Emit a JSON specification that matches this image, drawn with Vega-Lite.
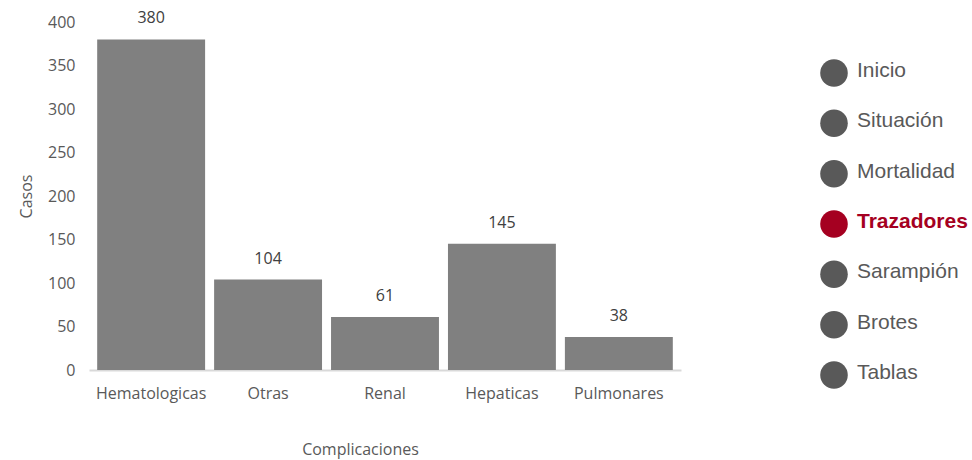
{
  "$schema": "https://vega.github.io/schema/vega-lite/v6.json",
  "background": "white",
  "padding": {"left": 18, "top": 10, "right": 5, "bottom": 5},
  "config": {"view": {"stroke": null}},
  "spacing": 138,
  "hconcat": [
    {
      "width": 592,
      "height": 348,
      "data": {"values": [
        {"complicacion": "Hematologicas", "casos": 380},
        {"complicacion": "Otras", "casos": 104},
        {"complicacion": "Renal", "casos": 61},
        {"complicacion": "Hepaticas", "casos": 145},
        {"complicacion": "Pulmonares", "casos": 38}
      ]},
      "encoding": {
        "x": {"field": "complicacion", "type": "nominal", "sort": null,
          "scale": {"paddingInner": 0.077, "paddingOuter": 0.07},
          "axis": {"title": "Complicaciones", "labelAngle": 0, "ticks": false, "labelPadding": 15,
            "labelFont": "Open Sans", "labelFontSize": 16, "labelColor": "#595959",
            "titleFont": "Open Sans", "titleFontSize": 16, "titleFontWeight": "normal", "titleColor": "#595959", "titlePadding": 40,
            "titleX": 271, "titleAlign": "center",
            "domainColor": "#d9d9d9", "domainWidth": 2}},
        "y": {"field": "casos", "type": "quantitative",
          "scale": {"domain": [0, 400]},
          "axis": {"title": "Casos", "values": [0, 50, 100, 150, 200, 250, 300, 350, 400], "grid": false, "domain": false, "ticks": false, "labelPadding": 14,
            "labelFont": "Open Sans", "labelFontSize": 16, "labelColor": "#595959",
            "titleFont": "Open Sans", "titleFontSize": 16, "titleFontWeight": "normal", "titleColor": "#595959", "titlePadding": 13}}
      },
      "layer": [
        {"mark": {"type": "bar", "color": "#808080"}},
        {"mark": {"type": "text", "dy": -21, "font": "Open Sans", "fontSize": 16, "color": "#404040"},
          "encoding": {"text": {"field": "casos", "type": "quantitative"}}}
      ]
    },
    {
      "width": 30,
      "height": 348,
      "data": {"values": [
        {"item": "Inicio", "activo": "no"},
        {"item": "Situación", "activo": "no"},
        {"item": "Mortalidad", "activo": "no"},
        {"item": "Trazadores", "activo": "si"},
        {"item": "Sarampión", "activo": "no"},
        {"item": "Brotes", "activo": "no"},
        {"item": "Tablas", "activo": "no"}
      ]},
      "encoding": {
        "y": {"field": "item", "type": "ordinal", "sort": null,
          "scale": {"type": "point", "range": [51, 353], "padding": 0}, "axis": null},
        "color": {"field": "activo", "type": "nominal",
          "scale": {"domain": ["no", "si"], "range": ["#595959", "#a50021"]}, "legend": null}
      },
      "layer": [
        {"mark": {"type": "circle", "size": 760, "opacity": 1}},
        {"transform": [{"filter": "datum.activo == 'no'"}],
          "mark": {"type": "text", "align": "left", "dx": 23, "dy": -2, "font": "Liberation Sans", "fontSize": 21, "fontWeight": "normal"},
          "encoding": {"text": {"field": "item", "type": "nominal"}}},
        {"transform": [{"filter": "datum.activo == 'si'"}],
          "mark": {"type": "text", "align": "left", "dx": 23, "dy": -2, "font": "Liberation Sans", "fontSize": 21, "fontWeight": "bold"},
          "encoding": {"text": {"field": "item", "type": "nominal"}}}
      ]
    }
  ]
}
